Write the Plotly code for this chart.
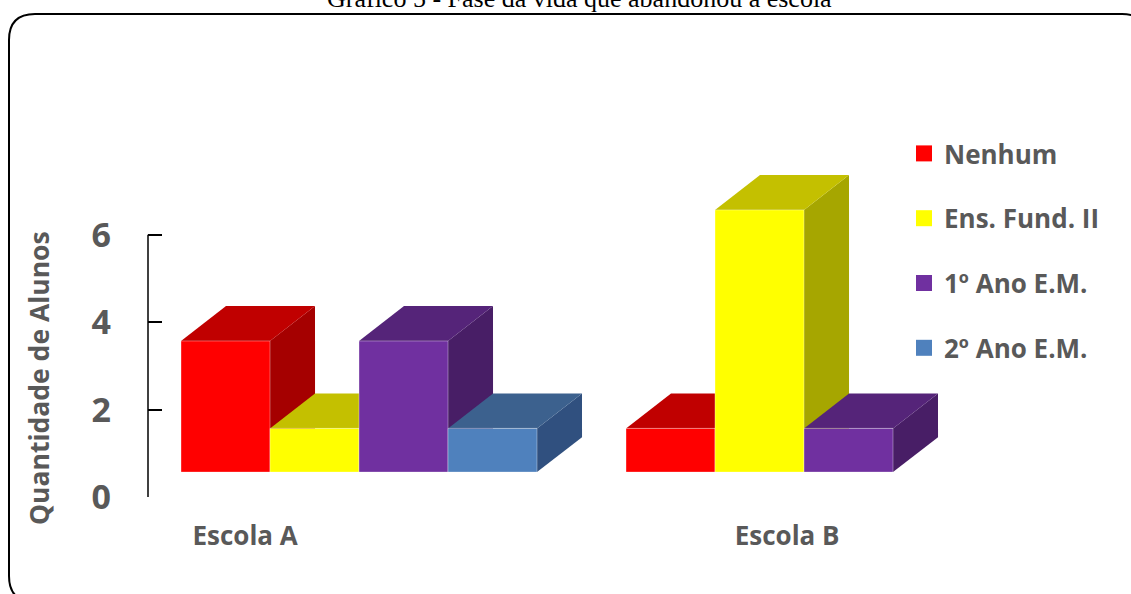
import plotly.graph_objects as go

# ---------------- data ----------------
categories = ["Escola A", "Escola B"]
series_names = ["Nenhum", "Ens. Fund. II", "1º Ano E.M.", "2º Ano E.M."]
nenhum = [3, 1]
ens_fund_ii = [1, 6]
ano1_em = [3, 1]
ano2_em = [1, None]
y_ticks = [0, 2, 4, 6]
title_text = "Gráfico 5 - Fase da vida que abandonou a escola"
y_title = "Quantidade de Alunos"

series_values = [nenhum, ens_fund_ii, ano1_em, ano2_em]

# ---------------- style ----------------
front_colors = ["#FF0000", "#FFFF00", "#7030A0", "#4F81BD"]
top_colors = ["#C00000", "#C4C000", "#552479", "#3C618E"]
side_colors = ["#A50000", "#A6A600", "#481E66", "#30507F"]
TXT = "#595959"
FONT = "Open Sans"

BASE = 0.57      # floor of the 3D box (data units)
DX = 0.506       # depth offset in x (data units)
DY = 0.80        # depth offset in y (data units)
STRIDE = len(series_names) + 1

W, H = 1131, 594
ML, MR, MT, MB = 148, 31, 60, 97
PW, PH = W - ML - MR, H - MT - MB
X_MIN = -33 / 89
X_MAX = X_MIN + PW / 89


def px_x(px):
    return (px - ML) / PW


def px_y(py):
    return (H - MB - py) / PH


fig = go.Figure()
shapes = []

for s, (name, vals) in enumerate(zip(series_names, series_values)):
    xs = [g * STRIDE + s + 0.5 for g in range(len(categories))]
    fig.add_trace(go.Bar(
        x=xs, y=vals, base=BASE, width=1,
        marker=dict(color=front_colors[s],
                    line=dict(color="rgba(255,255,255,0.35)", width=1)),
        name=name, legendgroup=name, showlegend=False,
        hovertemplate=name + ": %{y}<extra></extra>",
    ))
    fig.add_trace(go.Scatter(
        x=[None], y=[None], mode="markers", name=name, legendgroup=name,
        marker=dict(symbol="square", size=18, color=front_colors[s]),
    ))

# side and top faces, painted in bar order (below the front faces)
for g in range(len(categories)):
    for s, vals in enumerate(series_values):
        v = vals[g]
        if v is None:
            continue
        x0 = g * STRIDE + s
        x1 = x0 + 1
        yb, yt = BASE, BASE + v
        side = (f"M{x1},{yb} L{x1},{yt} L{x1+DX},{yt+DY} "
                f"L{x1+DX},{yb+DY} Z")
        top = (f"M{x0},{yt} L{x1},{yt} L{x1+DX},{yt+DY} "
               f"L{x0+DX},{yt+DY} Z")
        shapes.append(dict(type="path", path=side, xref="x", yref="y",
                           fillcolor=side_colors[s], line=dict(width=0),
                           layer="below"))
        shapes.append(dict(type="path", path=top, xref="x", yref="y",
                           fillcolor=top_colors[s], line=dict(width=0),
                           layer="below"))

# y axis line only from 0 to 6
shapes.append(dict(type="line", xref="paper", yref="y", x0=0, x1=0,
                   y0=y_ticks[0], y1=y_ticks[-1],
                   line=dict(color="black", width=1.5)))

# rounded frame
L, T, R, B, r = 9, 14, 1148, 602, 26
pts = lambda a, b: f"{px_x(a)},{px_y(b)}"
frame = (f"M{pts(L+r, T)} L{pts(R-r, T)} Q{pts(R, T)} {pts(R, T+r)} "
         f"L{pts(R, B-r)} Q{pts(R, B)} {pts(R-r, B)} L{pts(L+r, B)} "
         f"Q{pts(L, B)} {pts(L, B-r)} L{pts(L, T+r)} Q{pts(L, T)} {pts(L+r, T)} Z")
shapes.append(dict(type="path", path=frame, xref="paper", yref="paper",
                   line=dict(color="black", width=2), fillcolor="rgba(0,0,0,0)"))

fig.update_layout(
    width=W, height=H,
    margin=dict(l=ML, r=MR, t=MT, b=MB),
    paper_bgcolor="white", plot_bgcolor="white",
    barmode="overlay",
    shapes=shapes,
    showlegend=True,
    legend=dict(x=px_x(904), y=px_y(130), xanchor="left", yanchor="top",
                font=dict(family=FONT, size=26, color=TXT, weight="bold"),
                tracegroupgap=28, traceorder="grouped",
                bgcolor="rgba(0,0,0,0)", itemsizing="trace"),
    xaxis=dict(range=[X_MIN, X_MAX], tickvals=[0.72, 6.81], ticktext=categories,
               showgrid=False, zeroline=False, showline=False, ticks="",
               tickfont=dict(family=FONT, size=26, color=TXT, weight="bold"),
               ticklabelstandoff=21, fixedrange=True),
    yaxis=dict(range=[0, 10], tickvals=y_ticks, ticks="inside", ticklen=14,
               tickwidth=1.5, tickcolor="black",
               showgrid=False, zeroline=False, showline=False,
               tickfont=dict(family=FONT, size=34, color=TXT, weight="bold"),
               ticklabelstandoff=36, fixedrange=True),
    annotations=[
        dict(text=title_text, xref="paper", yref="paper",
             x=px_x(579), y=px_y(15), xanchor="center", yanchor="bottom",
             showarrow=False,
             font=dict(family="Liberation Serif", size=26, color="black")),
        dict(text=y_title, xref="paper", yref="paper",
             x=px_x(39), y=px_y(378), xanchor="center", yanchor="middle",
             textangle=-90, showarrow=False,
             font=dict(family=FONT, size=26.5, color=TXT, weight="bold")),
    ],
)

fig.write_html("out.html")
